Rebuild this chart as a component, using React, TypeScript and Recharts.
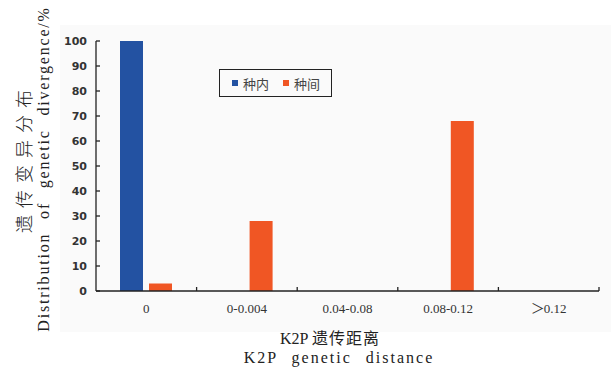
import { Bar, BarChart, Legend, XAxis, YAxis } from "recharts";

// K2P distance classes and the share of pairs falling in each
const categories = ["0", "0-0.004", "0.04-0.08", "0.08-0.12", "＞0.12"];
const intraValues = [100, 0, 0, 0, 0];
const interValues = [3, 28, 0, 68, 0];
const seriesNames = ["种内", "种间"];
const yTicks = [0, 10, 20, 30, 40, 50, 60, 70, 80, 90, 100];

const BLUE = "#2352a2";
const ORANGE = "#f05624";
const INK = "#222";
const SERIF = "Liberation Serif";
const CJK = "Noto Sans CJK SC";

const data = categories.map((range, i) => ({
  range,
  intra: intraValues[i],
  inter: interValues[i],
}));

// category label centred under the band, tick mark on the band's right edge
const XTick = ({ x, y, payload }: any) => {
  const half = payload?.offset || 50.3;
  const label = String(payload.value);
  // full-width ＞ comes from the CJK font
  const wide = label.startsWith("＞");
  return (
    <g>
      <line x1={x + half} x2={x + half} y1={y} y2={y - 4} stroke={INK} strokeWidth={1.3} />
      <text x={x} y={y + 13} dy="0.71em" textAnchor="middle" fill="#333" fontFamily={SERIF} fontSize={13}>
        {wide ? (
          <>
            <tspan fontFamily={CJK} fontSize={14}>＞</tspan>
            <tspan dx={-1}>{label.slice(1)}</tspan>
          </>
        ) : (
          label
        )}
      </text>
    </g>
  );
};

// inward tick mark plus value label
const YTick = ({ x, y, payload }: any) => (
  <g>
    <line x1={x} x2={x + 4} y1={y} y2={y} stroke={INK} strokeWidth={1.3} />
    <text
      x={x - 9}
      y={y}
      dy="0.36em"
      textAnchor="end"
      fill="#333"
      fontFamily="DejaVu Sans"
      fontSize={11}
      fontWeight={600}
    >
      {payload.value}
    </text>
  </g>
);

const LegendBox = () => (
  <div
    style={{
      boxSizing: "border-box",
      width: 113,
      height: 28,
      border: `1px solid ${INK}`,
      display: "flex",
      alignItems: "center",
      paddingLeft: 12,
      fontFamily: CJK,
      fontSize: 13,
      color: "#444",
    }}
  >
    {seriesNames.map((name, i) => (
      <span key={name} style={{ display: "flex", alignItems: "center", marginRight: i === 0 ? 14 : 0 }}>
        <span style={{ width: 6, height: 6, background: i === 0 ? BLUE : ORANGE, marginRight: 5 }} />
        {name}
      </span>
    ))}
  </div>
);

export default function App() {
  return (
    <div style={{ position: "absolute", left: 0, top: 0, width: 611, height: 372, background: "#fff" }}>
      <div style={{ position: "absolute", left: 60, top: 25, width: 551, height: 307, background: "#fafafa" }} />
      <div style={{ position: "absolute", left: 0, top: 0 }}>
        <BarChart
          width={611}
          height={372}
          data={data}
          margin={{ top: 41, right: 12, left: 36, bottom: 51 }}
          barSize={23}
          barGap={6}
        >
          <XAxis
            dataKey="range"
            height={30}
            axisLine={{ stroke: INK, strokeWidth: 1.3 }}
            tickLine={false}
            tickSize={0}
            tickMargin={0}
            interval={0}
            tick={<XTick />}
          />
          <YAxis
            width={60}
            domain={[0, 100]}
            ticks={yTicks}
            interval={0}
            axisLine={{ stroke: INK, strokeWidth: 1.3 }}
            tickLine={false}
            tickSize={0}
            tickMargin={0}
            tick={<YTick />}
          />
          <Legend
            layout="vertical"
            align="center"
            verticalAlign="middle"
            content={<LegendBox />}
            wrapperStyle={{ left: 219, top: 69, width: 113, height: 28 }}
          />
          <Bar dataKey="intra" name={seriesNames[0]} fill={BLUE} isAnimationActive={false} />
          <Bar dataKey="inter" name={seriesNames[1]} fill={ORANGE} isAnimationActive={false} />
        </BarChart>
      </div>
      <svg width={611} height={372} style={{ position: "absolute", left: 0, top: 0, pointerEvents: "none" }}>
        {/* axis titles: Chinese line above / left of the English one */}
        <text x={330} y={344} textAnchor="middle" fill="#222" fontSize={16}>
          <tspan fontFamily={SERIF}>K2P </tspan>
          <tspan fontFamily={CJK} letterSpacing={1}>遗传距离</tspan>
        </text>
        <text
          x={339}
          y={363}
          textAnchor="middle"
          fill="#222"
          fontFamily={SERIF}
          fontSize={16}
          letterSpacing={2}
          wordSpacing={8}
        >
          K2P genetic distance
        </text>
        <text
          transform="translate(31,158) rotate(-90)"
          textAnchor="middle"
          fill="#222"
          fontFamily={CJK}
          fontSize={18}
          fontWeight={300}
          letterSpacing={7}
        >
          遗传变异分布
        </text>
        <text
          transform="translate(49,169) rotate(-90)"
          textAnchor="middle"
          fill="#222"
          fontFamily={SERIF}
          fontSize={16}
          letterSpacing={1.8}
          wordSpacing={8}
        >
          Distribution of genetic divergence/%
        </text>
      </svg>
    </div>
  );
}
